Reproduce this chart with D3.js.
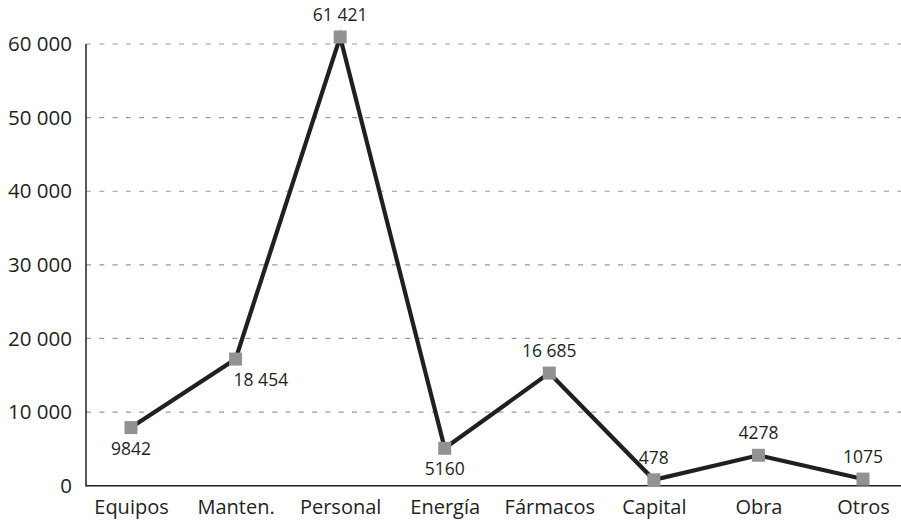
<!DOCTYPE html>
<html>
<head>
<meta charset="utf-8">
<script src="https://cdn.jsdelivr.net/npm/d3@7"></script>
<style>
body { margin: 0; background: #fff; }
text { font-family: "Open Sans", Lato, sans-serif; fill: #231f20; }
</style>
</head>
<body>
<div class="chart"></div>
<script>
var categories = ["Equipos", "Manten.", "Personal", "Energía", "Fármacos", "Capital", "Obra", "Otros"];
var values = [7900, 17200, 60950, 5080, 15300, 800, 4130, 900];
var printed = [9842, 18454, 61421, 5160, 16685, 478, 4278, 1075];
var labelSide = ["below", "belowRight", "above", "below", "above", "above", "above", "above"];
var yTicks = [0, 10000, 20000, 30000, 40000, 50000, 60000];

var W = 901, H = 522;
var svg = d3.select(".chart").append("svg").attr("width", W).attr("height", H);

var y = d3.scaleLinear().domain([0, 60000]).range([485.7, 44]);
var x = d3.scalePoint().domain(categories).range([131, 863]);

var fmt = function(n) {
	var s = String(n);
	if (n >= 10000) s = s.replace(/\B(?=(\d{3})+(?!\d))/g, " ");
	return s;
};

// rejilla
svg.append("g").selectAll("line").data(yTicks.slice(1)).enter().append("line")
	.attr("x1", 86).attr("x2", W)
	.attr("y1", function(d){return y(d);}).attr("y2", function(d){return y(d);})
	.attr("stroke", "#9a9a9a").attr("stroke-width", 1.2).attr("stroke-dasharray", "5,8.3");

// eje y
var yAxis = svg.append("g").attr("transform", "translate(86,0)")
	.call(d3.axisLeft(y).tickValues(yTicks).tickSize(0).tickPadding(14).tickFormat(fmt));
yAxis.select(".domain").remove();
yAxis.selectAll("text").style("font-size", "20.5px").attr("fill", "#231f20");

svg.append("line").attr("x1", 86).attr("x2", 86).attr("y1", 44).attr("y2", y(0) + 0.7)
	.attr("stroke", "#231f20").attr("stroke-width", 1.5);
svg.append("line").attr("x1", 86).attr("x2", W).attr("y1", y(0)).attr("y2", y(0))
	.attr("stroke", "#231f20").attr("stroke-width", 1.5);

// eje x
var xAxis = svg.append("g").attr("transform", "translate(0," + y(0) + ")")
	.call(d3.axisBottom(x).tickSize(0).tickPadding(14));
xAxis.select(".domain").remove();
xAxis.selectAll("text").style("font-size", "20px").attr("fill", "#231f20");

// linea
var line = d3.line().x(function(d, i){return x(categories[i]);}).y(function(d){return y(d);});
svg.append("path").datum(values).attr("d", line)
	.attr("fill", "none").attr("stroke", "#231f20").attr("stroke-width", 4.2).attr("stroke-linejoin", "miter");

// marcadores
svg.selectAll("rect.pt").data(values).enter().append("rect").attr("class", "pt")
	.attr("x", function(d, i){return x(categories[i]) - 6.5;})
	.attr("y", function(d){return y(d) - 6.5;})
	.attr("width", 13).attr("height", 13).attr("fill", "#929295");

// etiquetas
svg.selectAll("text.lbl").data(printed).enter().append("text").attr("class", "lbl")
	.attr("x", function(d, i){
		var cx = x(categories[i]);
		return labelSide[i] == "belowRight" ? cx - 2 : cx;
	})
	.attr("y", function(d, i){
		var cy = y(values[i]);
		return labelSide[i] == "above" ? cy - 16 : cy + 27;
	})
	.attr("text-anchor", function(d, i){return labelSide[i] == "belowRight" ? "start" : "middle";})
	.style("font-size", "17.5px")
	.text(function(d){return fmt(d);});
</script>
</body>
</html>
